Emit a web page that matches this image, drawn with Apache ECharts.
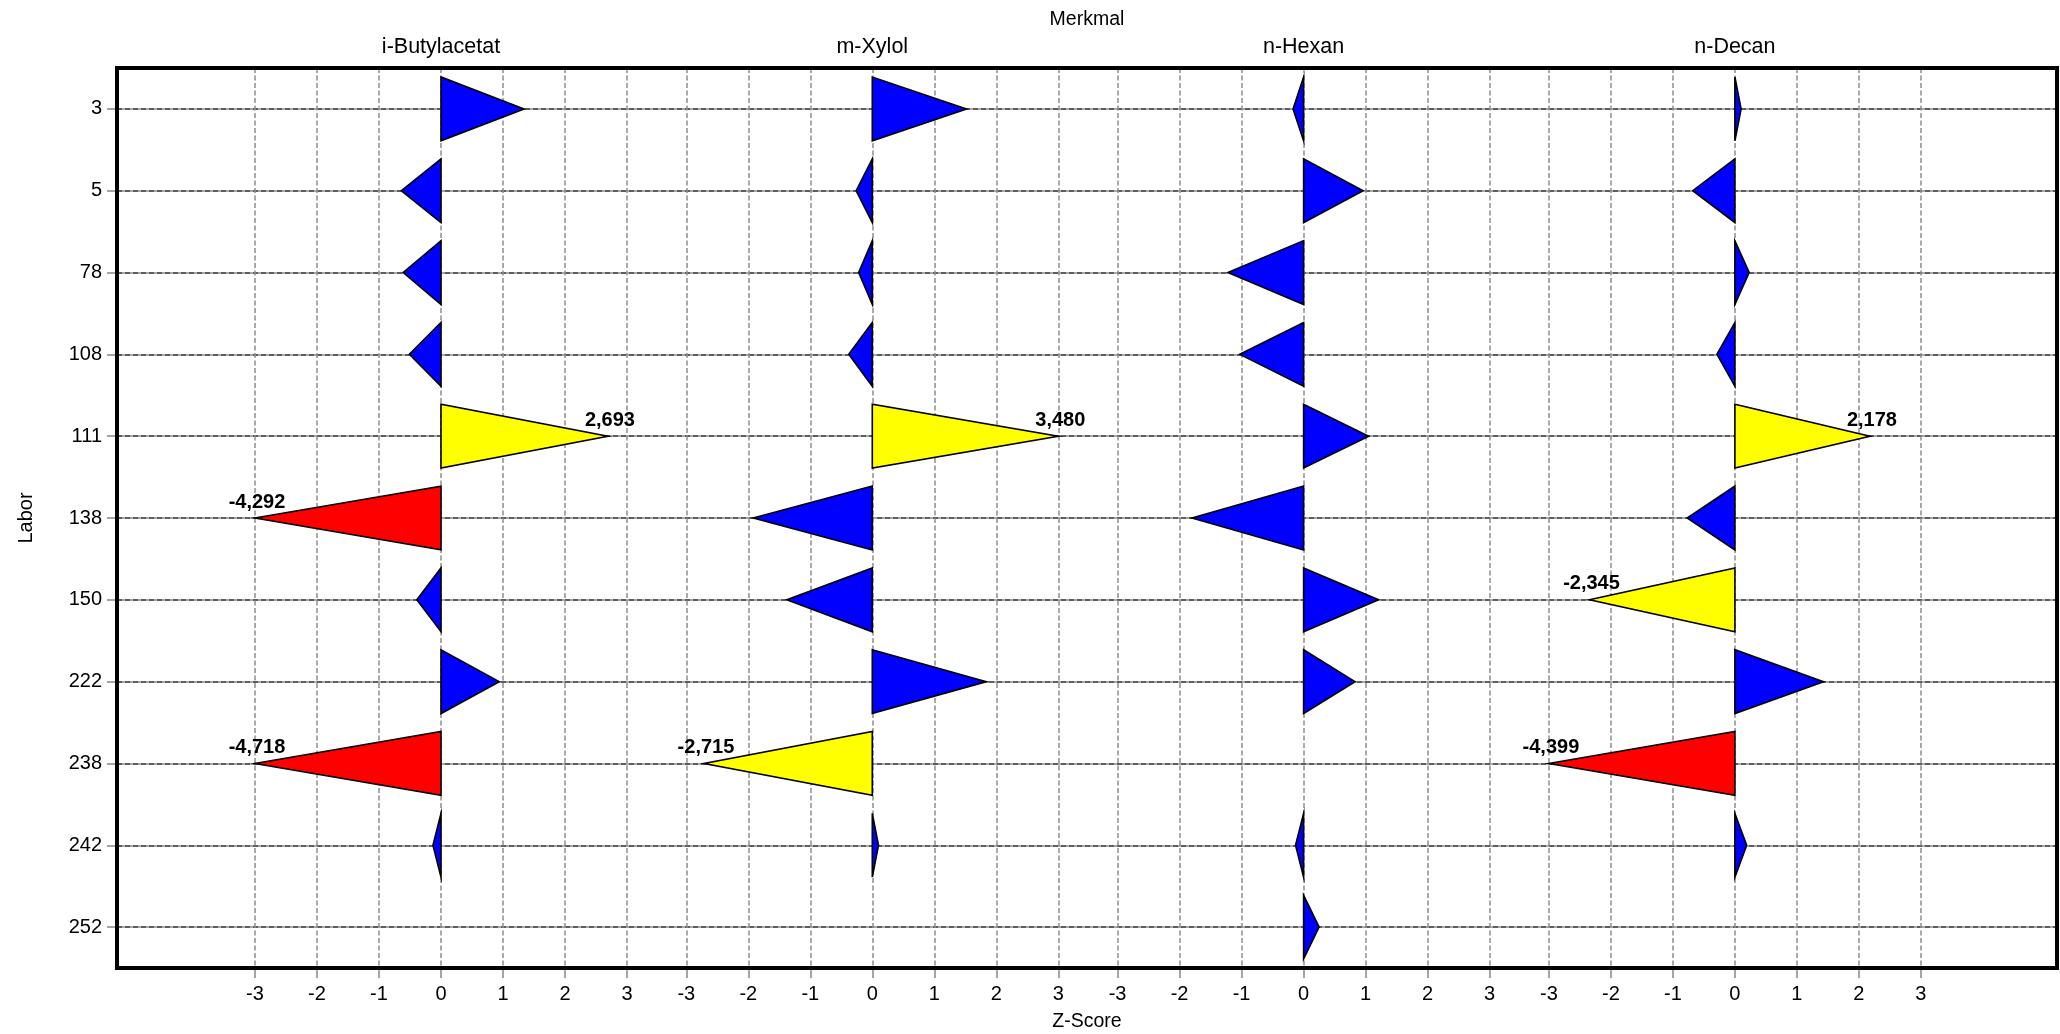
<!DOCTYPE html>
<html><head><meta charset="utf-8">
<script src="https://cdn.jsdelivr.net/npm/echarts@6/dist/echarts.min.js"></script>
<style>html,body{margin:0;padding:0;background:#fff}#c{width:2060px;height:1034px}</style>
</head><body><div id="c"></div>
<script>
// ---- data ----
const labs = ['3','5','78','108','111','138','150','222','238','242','252'];
const merkmale = ['i-Butylacetat','m-Xylol','n-Hexan','n-Decan'];
const xTicks = [-3,-2,-1,0,1,2,3];
const zButylacetat = [1.34,-0.64,-0.61,-0.51,2.693,-4.292,-0.39,0.94,-4.718,-0.13,null];
const zXylol       = [1.52,-0.26,-0.22,-0.38,3.480,-1.92,-1.38,1.84,-2.715,0.10,null];
const zHexan       = [-0.17,0.96,-1.22,-1.03,1.05,-1.80,1.21,0.83,null,-0.13,0.25];
const zDecan       = [0.10,-0.68,0.23,-0.29,2.178,-0.77,-2.345,1.43,-4.399,0.19,null];
const zValues = [zButylacetat, zXylol, zHexan, zDecan];

// ---- layout ----
const FONT = '"Liberation Sans", Arial, sans-serif';
const frame = {left:117, top:68, width:1940, height:900};
const band = frame.height / labs.length;
const unit = 62, panelStep = 431.3, firstZero = 441;
const xMin = xTicks[0], xMax = xTicks[xTicks.length-1];

function colorFor(v){
  const a = Math.abs(v);
  if (a < 2) return '#0000ff';
  if (a < 4) return '#ffff00';
  return '#ff0000';
}

const grids = [{left:frame.left, top:frame.top + band/2, width:frame.width, height:frame.height - band, containLabel:false}];
const xAxes = [{gridIndex:0, type:'value', min:0, max:1, show:false}];
const yAxes = [{
  gridIndex:0, type:'category', data:labs, inverse:true, boundaryGap:false, position:'left',
  axisLine:{show:false},
  axisTick:{show:true, length:10, lineStyle:{color:'#888', width:1.5}},
  axisLabel:{fontSize:20, fontFamily:FONT, color:'#000', margin:15},
  splitLine:{show:true, lineStyle:{color:'#a8a8a8', width:2, type:'solid'}}
}];
const series = [];

merkmale.forEach((m, i) => {
  const zero = firstZero + panelStep*i;
  grids.push({left: zero + xMin*unit, width:(xMax-xMin)*unit, top:frame.top, height:frame.height});
  xAxes.push({
    gridIndex:i+1, type:'value', min:xMin, max:xMax, interval:1,
    axisLine:{show:false},
    axisTick:{show:true, length:10, lineStyle:{color:'#888', width:1.5}},
    axisLabel:{fontSize:20, fontFamily:FONT, color:'#000', margin:16, showMinLabel:true, showMaxLabel:true},
    splitLine:{show:true, lineStyle:{color:'#8e8e8e', width:1.5, type:[5,2.5]}}
  });
  yAxes.push({gridIndex:i+1, type:'category', data:labs, inverse:true, show:false, splitLine:{show:false}});
  const data = [];
  zValues[i].forEach((v, j) => { if (v !== null) data.push([v, j]); });
  series.push({
    type:'custom', xAxisIndex:i+1, yAxisIndex:i+1, data, clip:false, z:5,
    encode:{x:0, y:1},
    renderItem(params, api){
      const v = api.value(0), j = api.value(1);
      const vd = Math.max(xMin, Math.min(xMax, v));
      const p0 = api.coord([0, j]);
      const p1 = api.coord([vd, j]);
      const h = api.size([0, 1])[1] * 0.39;
      const children = [{
        type:'polygon',
        shape:{points:[[p0[0], p0[1]-h],[p0[0], p0[1]+h],[p1[0], p1[1]]]},
        style:{fill:colorFor(v), stroke:'#000', lineWidth:1.6, lineJoin:'miter'}
      }];
      if (Math.abs(v) >= 2) {
        children.push({
          type:'text', z2:10,
          style:{text:v.toFixed(3).replace('.', ','), x:p1[0]+2, y:p1[1]-6,
                 font:'bold 20px ' + FONT, fill:'#000', align:'center', verticalAlign:'bottom'}
        });
      }
      return {type:'group', children};
    }
  });
});

// second overlay axis on the frame grid: darker dashes over the light horizontal lines
yAxes.push({
  gridIndex:0, type:'category', data:labs, inverse:true, boundaryGap:false, position:'right',
  axisLine:{show:false}, axisTick:{show:false}, axisLabel:{show:false},
  splitLine:{show:true, lineStyle:{color:'#5e5e5e', width:2, type:[5,3]}}
});

const graphic = [
  {type:'rect', z:100, silent:true, shape:{x:frame.left, y:frame.top, width:frame.width, height:frame.height},
   style:{fill:'none', stroke:'#000', lineWidth:4}},
  {type:'text', x:(frame.left*2+frame.width)/2, y:20,
   style:{text:'Merkmal', font:'19.5px ' + FONT, fill:'#000', align:'center', verticalAlign:'middle'}},
  {type:'text', x:(frame.left*2+frame.width)/2, y:1022,
   style:{text:'Z-Score', font:'19.5px ' + FONT, fill:'#000', align:'center', verticalAlign:'middle'}},
  {type:'text', x:26, y:frame.top + frame.height/2, rotation:Math.PI/2,
   style:{text:'Labor', font:'20px ' + FONT, fill:'#000', align:'center', verticalAlign:'middle'}}
];
merkmale.forEach((m, i) => {
  graphic.push({type:'text', x:firstZero + panelStep*i, y:47,
    style:{text:m, font:'21.5px ' + FONT, fill:'#000', align:'center', verticalAlign:'middle'}});
});

const chart = echarts.init(document.getElementById('c'), null, {renderer:'canvas'});
chart.setOption({
  animation:false,
  backgroundColor:'#fff',
  grid:grids, xAxis:xAxes, yAxis:yAxes, series, graphic
});
</script></body></html>
